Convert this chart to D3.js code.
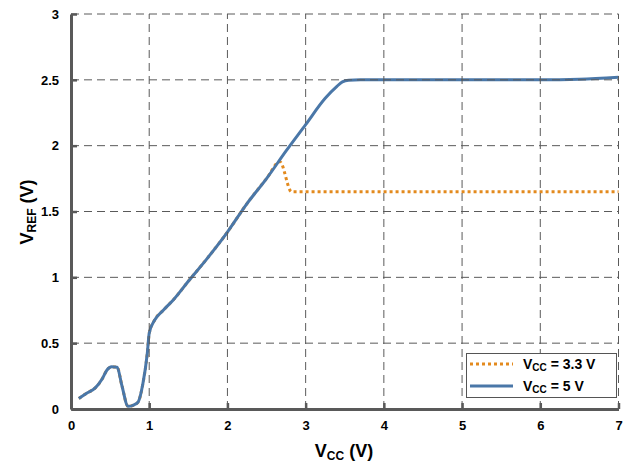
<!DOCTYPE html>
<html>
<head>
<meta charset="utf-8">
<script src="https://cdn.jsdelivr.net/npm/d3@7"></script>
<style>
  html, body { margin: 0; padding: 0; background: #fff; }
  text { font-family: "Liberation Sans", Arial, Helvetica, sans-serif; font-weight: bold; fill: #000; }
</style>
</head>
<body>
<svg id="chart" width="633" height="466"></svg>
<script>
// ---- data ----
const xTicks = [0, 1, 2, 3, 4, 5, 6, 7];
const xTickLabels = ["0", "1", "2", "3", "4", "5", "6", "7"];
const yTicks = [0, 0.5, 1, 1.5, 2, 2.5, 3];
const yTickLabels = ["0", "0.5", "1", "1.5", "2", "2.5", "3"];

const vcc5X = [0.1, 0.2, 0.31, 0.4, 0.46, 0.52, 0.59, 0.65, 0.73, 0.8, 0.86, 0.92, 0.975, 1.0, 1.07, 1.18, 1.31, 1.5, 1.75, 2.0, 2.25, 2.5, 2.75, 3.0, 3.25, 3.4, 3.47, 3.55, 3.7, 4.0, 5.0, 6.0, 6.5, 7.0];
const vcc5Y = [0.08, 0.12, 0.16, 0.23, 0.296, 0.32, 0.317, 0.18, 0.02, 0.03, 0.055, 0.195, 0.42, 0.575, 0.676, 0.75, 0.83, 0.97, 1.15, 1.344, 1.56, 1.75, 1.96, 2.16, 2.36, 2.45, 2.485, 2.497, 2.5, 2.5, 2.5, 2.5, 2.505, 2.52];

const vcc33X = [0.1, 0.2, 0.31, 0.4, 0.46, 0.52, 0.59, 0.65, 0.73, 0.8, 0.86, 0.92, 0.975, 1.0, 1.07, 1.18, 1.31, 1.5, 1.75, 2.0, 2.25, 2.5, 2.67, 2.82, 3.0, 4.0, 5.0, 6.0, 7.0];
const vcc33Y = [0.08, 0.12, 0.16, 0.23, 0.296, 0.32, 0.317, 0.18, 0.02, 0.03, 0.055, 0.195, 0.42, 0.575, 0.676, 0.75, 0.83, 0.97, 1.15, 1.344, 1.56, 1.75, 1.878, 1.65, 1.65, 1.65, 1.65, 1.65, 1.65];

const seriesNames = ["3.3 V", "5 V"];

// ---- layout ----
const svg = d3.select("#chart");
const x = d3.scaleLinear().domain([0, 7]).range([71, 618.5]);
const y = d3.scaleLinear().domain([0, 3]).range([409, 14]);

const blue = "#4a77a8";
const orange = "#e38a1e";
const gridColor = "#5a5a5a";
const axisColor = "#595959";

const line = d3.line().x(d => x(d[0])).y(d => y(d[1])).curve(d3.curveMonotoneX);

// data lines
svg.append("path")
  .datum(d3.zip(vcc33X, vcc33Y))
  .attr("d", line)
  .attr("fill", "none")
  .attr("stroke", orange)
  .attr("stroke-width", 3)
  .attr("stroke-dasharray", "3,3");

svg.append("path")
  .datum(d3.zip(vcc5X, vcc5Y))
  .attr("d", line)
  .attr("fill", "none")
  .attr("stroke", blue)
  .attr("stroke-width", 3)
  .attr("stroke-linejoin", "round");

// grid (dashed)
const grid = svg.append("g");
xTicks.filter(t => t > 0).forEach(t => {
  grid.append("line")
    .attr("x1", x(t)).attr("x2", x(t))
    .attr("y1", y(0)).attr("y2", y(3))
    .attr("stroke", gridColor).attr("stroke-width", 1)
    .attr("stroke-dasharray", "8,5");
});
yTicks.filter(t => t > 0).forEach(t => {
  grid.append("line")
    .attr("x1", x(0)).attr("x2", x(7))
    .attr("y1", y(t)).attr("y2", y(t))
    .attr("stroke", gridColor).attr("stroke-width", 1)
    .attr("stroke-dasharray", "8,5");
});

// axes
const xAxis = svg.append("g").attr("transform", `translate(0,${y(0)})`)
  .call(d3.axisBottom(x).tickValues(xTicks).tickFormat((d, i) => xTickLabels[i]).tickSizeInner(-6).tickSizeOuter(0).tickPadding(12));
xAxis.select(".domain").attr("stroke", axisColor).attr("stroke-width", 3);
xAxis.selectAll(".tick line").attr("stroke", axisColor).attr("stroke-width", 2.5);
xAxis.selectAll(".tick text").attr("font-size", 13).attr("font-family", null).attr("fill", "#000");

const yAxis = svg.append("g").attr("transform", `translate(${x(0)},0)`)
  .call(d3.axisLeft(y).tickValues(yTicks).tickFormat((d, i) => yTickLabels[i]).tickSizeInner(-6).tickSizeOuter(0).tickPadding(12));
yAxis.select(".domain").attr("stroke", axisColor).attr("stroke-width", 3);
yAxis.selectAll(".tick line").attr("stroke", axisColor).attr("stroke-width", 2.5);
yAxis.selectAll(".tick text").attr("font-size", 13).attr("font-family", null).attr("fill", "#000");

// axis titles
const xt = svg.append("text").attr("x", 344).attr("y", 457).attr("text-anchor", "middle").attr("font-size", 18);
xt.append("tspan").text("V");
xt.append("tspan").attr("font-size", 12).attr("dy", 3).text("CC");
xt.append("tspan").attr("dy", -3).text(" (V)");

const yt = svg.append("text").attr("transform", "translate(33,212) rotate(-90)").attr("text-anchor", "middle").attr("font-size", 18);
yt.append("tspan").text("V");
yt.append("tspan").attr("font-size", 12).attr("dy", 3).text("REF");
yt.append("tspan").attr("dy", -3).text(" (V)");

// legend
const lg = svg.append("g");
lg.append("rect").attr("x", 466.5).attr("y", 353.5).attr("width", 150).attr("height", 44)
  .attr("fill", "#fff").attr("stroke", "#555").attr("stroke-width", 1);
const legendColors = [orange, blue];
const legendDash = ["3,3", null];
seriesNames.forEach((name, i) => {
  const ly = 364 + i * 22;
  lg.append("line").attr("x1", 470).attr("x2", 513).attr("y1", ly).attr("y2", ly)
    .attr("stroke", legendColors[i]).attr("stroke-width", 3)
    .attr("stroke-dasharray", legendDash[i]);
  const t = lg.append("text").attr("x", 523).attr("y", ly + 5).attr("font-size", 14);
  t.append("tspan").text("V");
  t.append("tspan").attr("font-size", 10).attr("dy", 2).text("CC");
  t.append("tspan").attr("dy", -2).text(" = " + name);
});
</script>
</body>
</html>
